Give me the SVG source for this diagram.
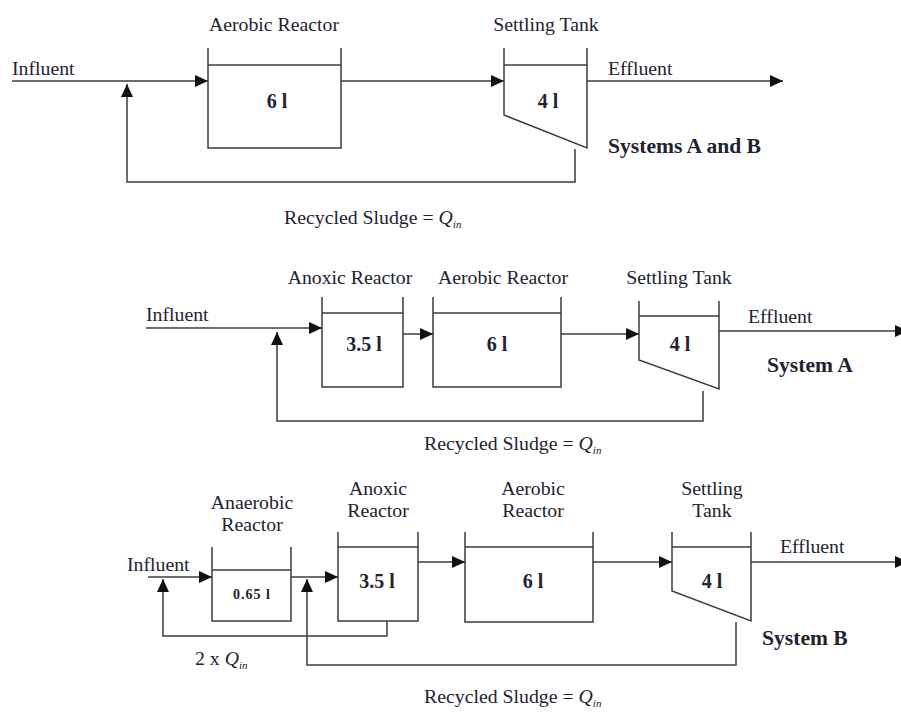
<svg xmlns="http://www.w3.org/2000/svg" width="901" height="713" viewBox="0 0 901 713">
<defs>
<style>
.ln{fill:none;stroke:#3c3c3c;stroke-width:1.5}
.t{font-family:"Liberation Serif","Times New Roman",serif;font-size:19.8px;fill:#222230}
.c{text-anchor:middle}
.b{font-weight:bold;font-size:20px}
.s{font-weight:bold;font-size:21.6px}
.q{font-style:italic}
.sub{font-style:italic;font-size:11px}
</style>
<marker id="ah" markerUnits="userSpaceOnUse" markerWidth="13" markerHeight="12" refX="13" refY="6" orient="auto">
<path d="M0,0 L13,6 L0,12 z" fill="#111"/>
</marker>
</defs>
<rect width="901" height="713" fill="#fff"/>

<!-- System A and B -->
<g id="s1-aerobic">
<path class="ln" d="M208,48 V148 H341 V48 M208,65 H341"/>
<text class="t c" x="274" y="31">Aerobic Reactor</text>
<text class="t c b" x="277" y="108">6 l</text>
</g>
<g id="s1-settling">
<path class="ln" d="M504,48 V115 L587,148 V48 M504,65 H587"/>
<text class="t c" x="546" y="31">Settling Tank</text>
<text class="t c b" x="548" y="108">4 l</text>
</g>
<g id="s1-connectors">
<path class="ln" d="M12,81 H208" marker-end="url(#ah)"/>
<path class="ln" d="M341,81 H504" marker-end="url(#ah)"/>
<path class="ln" d="M587,81 H783" marker-end="url(#ah)"/>
<path class="ln" d="M575,149 V182 H127 V84" marker-end="url(#ah)"/>
</g>
<g id="s1-labels">
<text class="t" x="12" y="75">Influent</text>
<text class="t" x="608" y="75">Effluent</text>
<text class="t s" x="608" y="153">Systems A and B</text>
<text class="t" x="284" y="224">Recycled Sludge = <tspan class="q">Q</tspan><tspan class="sub" dy="4">in</tspan></text>
</g>

<!-- System A -->
<g id="sA-anoxic">
<path class="ln" d="M322,297 V387 H403 V297 M322,313 H403"/>
<text class="t c" x="350" y="284">Anoxic Reactor</text>
<text class="t c b" x="364" y="351">3.5 l</text>
</g>
<g id="sA-aerobic">
<path class="ln" d="M433,297 V387 H561 V297 M433,313 H561"/>
<text class="t c" x="503" y="284">Aerobic Reactor</text>
<text class="t c b" x="497" y="351">6 l</text>
</g>
<g id="sA-settling">
<path class="ln" d="M639,301 V360 L719,389 V301 M639,316 H719"/>
<text class="t c" x="679" y="284">Settling Tank</text>
<text class="t c b" x="680" y="351">4 l</text>
</g>
<g id="sA-connectors">
<path class="ln" d="M146,328 H322" marker-end="url(#ah)"/>
<path class="ln" d="M403,334 H433" marker-end="url(#ah)"/>
<path class="ln" d="M561,334 H639" marker-end="url(#ah)"/>
<path class="ln" d="M719,331 H908" marker-end="url(#ah)"/>
<path class="ln" d="M703,391 V421 H277 V332" marker-end="url(#ah)"/>
</g>
<g id="sA-labels">
<text class="t" x="146" y="321">Influent</text>
<text class="t" x="748" y="323">Effluent</text>
<text class="t s" x="767" y="372">System A</text>
<text class="t" x="424" y="450">Recycled Sludge = <tspan class="q">Q</tspan><tspan class="sub" dy="4">in</tspan></text>
</g>

<!-- System B -->
<g id="sB-anaerobic">
<path class="ln" d="M212,547 V621 H291 V547 M212,570 H291"/>
<text class="t c" x="252" y="509">Anaerobic</text>
<text class="t c" x="252" y="531">Reactor</text>
<text class="t c" x="252" y="599" style="font-weight:bold;font-size:14px;letter-spacing:1px">0.65 l</text>
</g>
<g id="sB-anoxic">
<path class="ln" d="M338,532 V621 H418 V532 M338,547 H418"/>
<text class="t c" x="378" y="495">Anoxic</text>
<text class="t c" x="378" y="517">Reactor</text>
<text class="t c b" x="377" y="588">3.5 l</text>
</g>
<g id="sB-aerobic">
<path class="ln" d="M465,532 V622 H593 V532 M465,547 H593"/>
<text class="t c" x="533" y="495">Aerobic</text>
<text class="t c" x="533" y="517">Reactor</text>
<text class="t c b" x="533" y="588">6 l</text>
</g>
<g id="sB-settling">
<path class="ln" d="M672,532 V591 L751,621 V532 M672,547 H751"/>
<text class="t c" x="712" y="495">Settling</text>
<text class="t c" x="712" y="517">Tank</text>
<text class="t c b" x="712" y="588">4 l</text>
</g>
<g id="sB-connectors">
<path class="ln" d="M148,577 H212" marker-end="url(#ah)"/>
<path class="ln" d="M291,577 H338" marker-end="url(#ah)"/>
<path class="ln" d="M418,562 H465" marker-end="url(#ah)"/>
<path class="ln" d="M593,562 H672" marker-end="url(#ah)"/>
<path class="ln" d="M751,562 H908" marker-end="url(#ah)"/>
<path class="ln" d="M387,621 V636 H163 V579" marker-end="url(#ah)"/>
<path class="ln" d="M736,622 V665 H307 V579" marker-end="url(#ah)"/>
</g>
<g id="sB-labels">
<text class="t" x="127" y="571">Influent</text>
<text class="t" x="780" y="553">Effluent</text>
<text class="t s" x="762" y="645">System B</text>
<text class="t" x="195" y="665">2 x <tspan class="q">Q</tspan><tspan class="sub" dy="4">in</tspan></text>
<text class="t" x="424" y="703">Recycled Sludge = <tspan class="q">Q</tspan><tspan class="sub" dy="4">in</tspan></text>
</g>
</svg>
